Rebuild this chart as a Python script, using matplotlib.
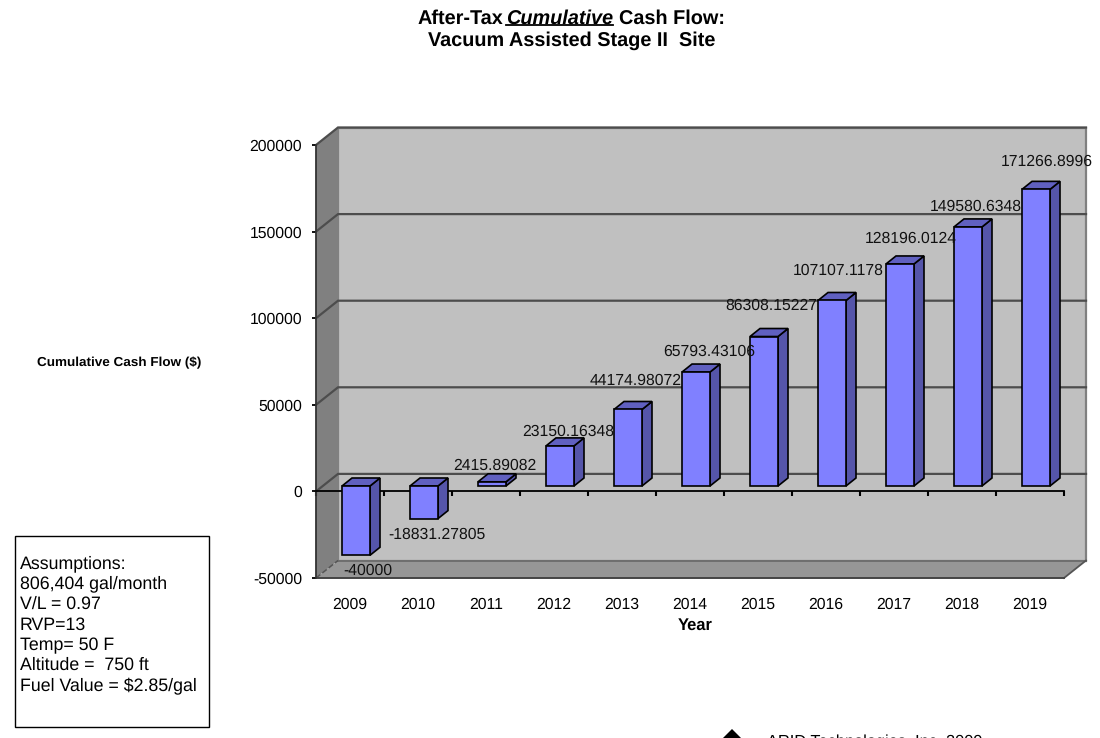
from matplotlib import pyplot as plt
from matplotlib.patches import Polygon, Rectangle
import numpy as np

plt.rcParams['font.family'] = ['Liberation Sans', 'DejaVu Sans']
plt.rcParams['axes.unicode_minus'] = False
plt.rcParams['text.hinting'] = 'no_hinting'

years = ['2009', '2010', '2011', '2012', '2013', '2014', '2015', '2016', '2017', '2018', '2019']
cash_flow = [-40000, -18831.27805, 2415.89082, 23150.16348, 44174.98072, 65793.43106,
             86308.15227, 107107.1178, 128196.0124, 149580.6348, 171266.8996]
value_labels = ['-40000', '-18831.27805', '2415.89082', '23150.16348', '44174.98072', '65793.43106',
                '86308.15227', '107107.1178', '128196.0124', '149580.6348', '171266.8996']
y_ticks = [-50000, 0, 50000, 100000, 150000, 200000]
assumptions = ['Assumptions:', '806,404 gal/month', 'V/L = 0.97', 'RVP=13', 'Temp= 50 F',
               'Altitude =  750 ft', 'Fuel Value = $2.85/gal']

# label nudges in pixels, the original labels were placed by hand
label_dx = [12, 13, 3, 8, 8, 13, 7, 6, 11, 8, 11]
label_dy = [-15, -16, 16, 14, 29, 20, 31, 30, 25, 20, 28]

W, H = 1100, 738
L, R, T, B = 316, 1064, 145, 578

fig = plt.figure(figsize=(W / 100, H / 100), dpi=100)
ax = fig.add_axes([L / W, 1 - B / H, (R - L) / W, (B - T) / H])
ax.set_xlim(-0.5, 10.5)
ax.set_ylim(-50000, 200000)
ax.patch.set_visible(False)

# pixel sizes of the fake 3d, turned into data units
px_x = 11 / (R - L)
px_y = 250000 / (B - T)
wall_dx, wall_dy = 22 * px_x, 17.5 * px_y
bar_dx, bar_dy = 10 * px_x, 8 * px_y
shift_x, shift_y = 6 * px_x, 5.4 * px_y
half_w = 14 * px_x
x0, x1, y0, y1 = -0.5, 10.5, -50000, 200000


def poly(points, color, z, edge='none', lw=0):
    ax.add_patch(Polygon(points, closed=True, facecolor=color, edgecolor=edge, linewidth=lw,
                         zorder=z, clip_on=False, joinstyle='miter'))


# walls
poly([(x0 + wall_dx, y0 + wall_dy), (x1 + wall_dx, y0 + wall_dy), (x1 + wall_dx, y1 + wall_dy),
      (x0 + wall_dx, y1 + wall_dy)], '#c0c0c0', 0.5, '#808080', 1.6)
poly([(x0, y0), (x0 + wall_dx, y0 + wall_dy), (x0 + wall_dx, y1 + wall_dy), (x0, y1)], '#808080', 0.6)
poly([(x0, y0), (x1, y0), (x1 + wall_dx, y0 + wall_dy), (x0 + wall_dx, y0 + wall_dy)], '#969696', 0.6)

# gridlines run over the side wall and the back wall
for v in y_ticks:
    if v > -50000:
        ax.plot([x0, x0 + wall_dx, x1 + wall_dx], [v, v + wall_dy, v + wall_dy], color='#4d4d4d', lw=1.6,
                zorder=1, clip_on=False, solid_joinstyle='miter')
ax.plot([x0 + wall_dx, x1 + wall_dx], [y0 + wall_dy, y0 + wall_dy], color='#6e6e6e', lw=1.4, zorder=1, clip_on=False)
ax.plot([x0, x0 + wall_dx], [y0, y0 + wall_dy], color='#555555', lw=1.1, ls='--', zorder=1, clip_on=False)
ax.plot([x1, x1 + wall_dx], [y0, y0 + wall_dy], color='#555555', lw=1.3, zorder=1, clip_on=False)
ax.plot([x0, x1], [y0, y0], color='#444444', lw=1.4, zorder=1, clip_on=False)

for i, v in enumerate(cash_flow):
    left, right = i + shift_x - half_w, i + shift_x + half_w
    base, end = shift_y, v + shift_y
    low, high = min(base, end), max(base, end)
    poly([(right, low), (right + bar_dx, low + bar_dy), (right + bar_dx, high + bar_dy), (right, high)],
         '#5555aa', 3, 'black', 1.2)
    poly([(left, high), (right, high), (right + bar_dx, high + bar_dy), (left + bar_dx, high + bar_dy)],
         '#6060c0', 3, 'black', 1.2)
    poly([(left, low), (right, low), (right, high), (left, high)], '#8080ff', 3.1, 'black', 1.2)
    ax.annotate(value_labels[i], (i + shift_x, end), xytext=(label_dx[i], label_dy[i]),
                textcoords='offset pixels', ha='center', va='center', fontsize=11.3, color='#111111', zorder=5,
                annotation_clip=False)

for s in ['top', 'right']:
    ax.spines[s].set_visible(False)
ax.spines['bottom'].set_position(('data', 0))
ax.spines['bottom'].set_linewidth(1.3)
ax.spines['left'].set_linewidth(1.3)
ax.spines['left'].set_color('#333333')
ax.set_yticks(y_ticks)
ax.set_xticks(np.arange(len(years)))
ax.set_xticklabels(years)
ax.set_xticks(np.arange(len(years) + 1) - 0.5, minor=True)
ax.tick_params(axis='x', which='major', length=0, pad=76, labelsize=11.3)
ax.tick_params(axis='x', which='minor', length=3.5, width=1.5, direction='out')
ax.tick_params(axis='y', length=3, width=1.3, pad=7, labelsize=11.3)


def px_text(x, y, s, **kw):
    return fig.text(x / W, 1 - y / H, s, **kw)


px_text(695, 625, 'Year', fontsize=11.9, fontweight='bold', ha='center', va='center')
px_text(119.5, 362.5, 'Cumulative Cash Flow ($)', fontsize=9.7, fontweight='bold', ha='center', va='center')

# title, first line has three styles so lay it out by measured widths
parts = [('After-Tax', 'normal', 3), ('Cumulative', 'italic', 6), ('Cash Flow:', 'normal', 0)]
renderer = fig.canvas.get_renderer()
x = 417
for s, st, gap in parts:
    t = px_text(x, 18.5, s, fontsize=14.3, fontweight='bold', fontstyle=st, ha='left', va='center')
    w = t.get_window_extent(renderer).width
    if st == 'italic':
        fig.add_artist(plt.Line2D([x / W, (x + w) / W], [1 - 25 / H, 1 - 25 / H], color='black', lw=1.3))
    x += w + gap
px_text(572, 41, 'Vacuum Assisted Stage II  Site', fontsize=14.3, fontweight='bold', ha='center', va='center')

# assumptions box
fig.add_artist(Rectangle((15 / W, 1 - 727 / H), 194 / W, 191 / H, transform=fig.transFigure,
                         facecolor='white', edgecolor='black', linewidth=1))
px_text(20, 555, '\n'.join(assumptions), fontsize=12.8, ha='left', va='top', linespacing=1.28)

# footer runs off the bottom of the page
fig.add_artist(Polygon([(732 / W, 1 - 729 / H), (746 / W, 1 - 743 / H), (732 / W, 1 - 757 / H), (718 / W, 1 - 743 / H)],
                       closed=True, transform=fig.transFigure, facecolor='black', edgecolor='none'))
px_text(767, 734, 'ARID Technologies, Inc. 2009', fontsize=11.8, ha='left', va='top')

fig.savefig('out.png', dpi=100)
